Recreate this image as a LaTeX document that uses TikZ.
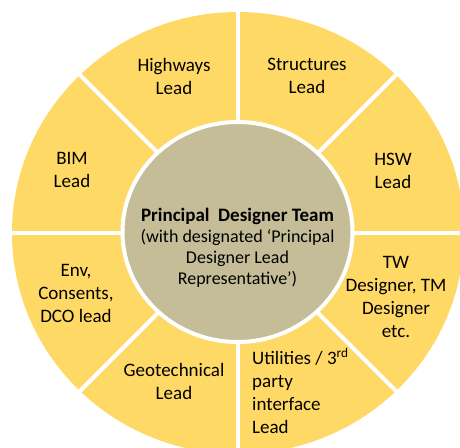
\documentclass[tikz,border=0pt]{standalone}
\usepackage{fontspec}
\setmainfont{Carlito}
\definecolor{ringfill}{HTML}{FFD966}
\definecolor{hubfill}{HTML}{C4BD97}
\begin{document}
\begin{tikzpicture}[x=1pt,y=-1pt,
  label/.style={align=center,inner sep=0pt,font=\fontsize{19}{23}\selectfont,text=black},
  hubtext/.style={align=center,inner sep=0pt,font=\fontsize{18}{21}\selectfont,text=black}]
\useasboundingbox (0,0) rectangle (460,447);
\clip (0,0) rectangle (460,447);
% outer ring of eight segments
\fill[ringfill] (238,233) ellipse [x radius=226, y radius=221];
\foreach \a in {0,45,...,315}
  \draw[white,line width=4] (238,233) -- ++(\a:245);
% central hub
\fill[hubfill,draw=white,line width=4] (237.5,232) ellipse [x radius=115, y radius=110];
% segment labels
\node[label] (hwy) at (174,76) {Highways\\Lead};
\node[label] (str) at (307,76) {Structures\\Lead};
\node[label] (bim) at (72,170) {BIM\\Lead};
\node[label] (hsw) at (393,171) {HSW\\Lead};
\node[label] (env) at (76,293) {Env,\\Consents,\\DCO lead};
\node[label] (tw) at (396,297) {TW\\Designer, TM\\Designer\\etc.};
\node[label] (geo) at (174,381) {Geotechnical\\Lead};
\node[label,align=left,anchor=west] (utl) at (252,391) {Utilities / 3\textsuperscript{rd}\\party\\interface\\Lead};
% hub label
\node[hubtext] (pdt) at (237.5,248) {{\fontsize{19}{21}\selectfont\bfseries Principal\ \ Designer Team}\\(with designated ‘Principal\\Designer Lead\\Representative’)};
\end{tikzpicture}
\end{document}
